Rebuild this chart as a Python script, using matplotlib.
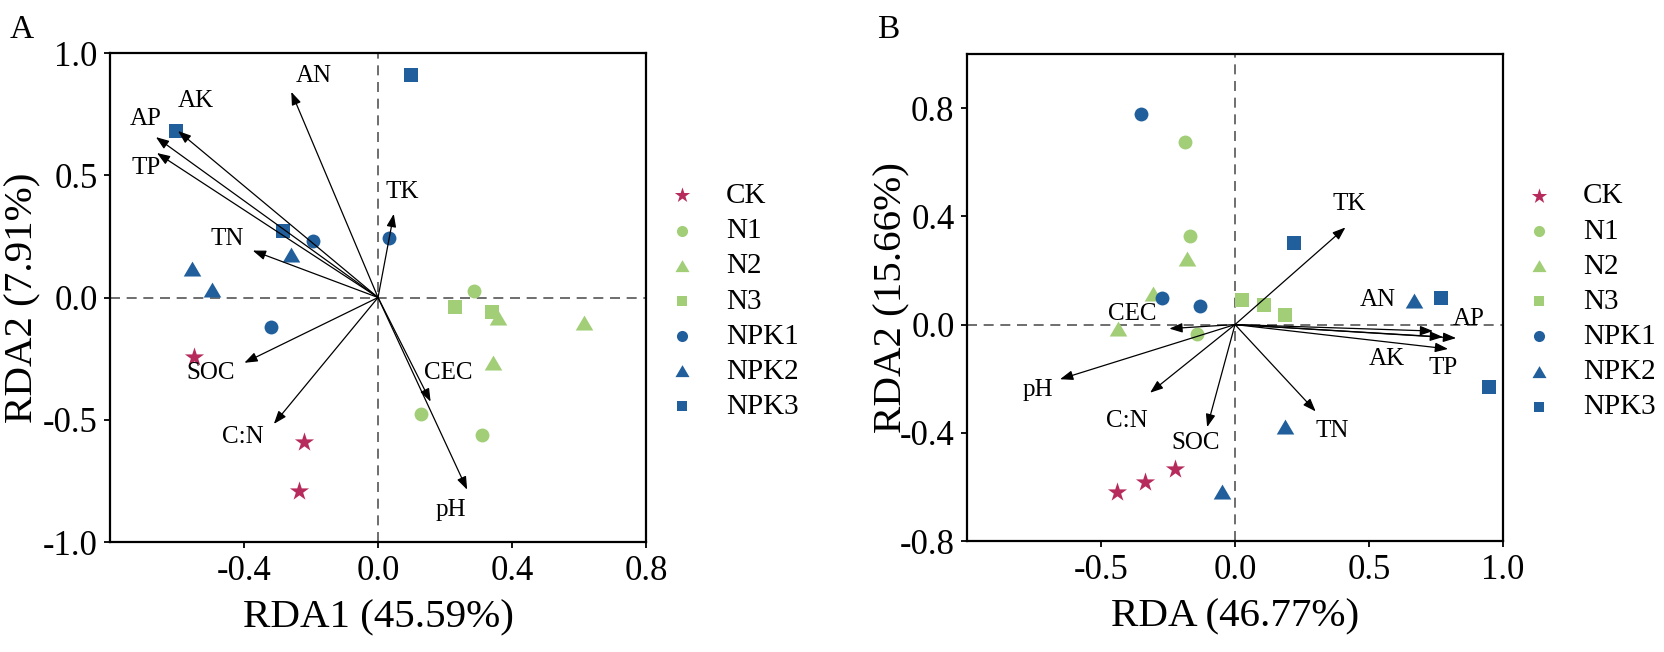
import matplotlib
matplotlib.use("Agg")
import matplotlib.pyplot as plt

plt.rcParams["font.family"] = ["Liberation Serif", "DejaVu Serif"]
plt.rcParams["axes.unicode_minus"] = False

# groups and colours
GROUPS = ["CK", "N1", "N2", "N3", "NPK1", "NPK2", "NPK3"]
COLORS = ["#B72A5C", "#A1CE76", "#A1CE76", "#A1CE76", "#205F9B", "#205F9B", "#205F9B"]
TRI = [(-1, -0.8), (1, -0.8), (0, 0.9)]
MARKERS = ["*", "o", TRI, "s", "o", TRI, "s"]
SIZES = [210, 100, 160, 95, 100, 160, 95]

# ---- panel A: sample scores (one list per group) ----
A_X = [[-0.549, -0.221, -0.237],
       [0.285, 0.128, 0.309],
       [0.358, 0.614, 0.342],
       [0.229, 0.339],
       [-0.193, 0.032, -0.320],
       [-0.556, -0.496, -0.261],
       [0.097, -0.603, -0.283]]
A_Y = [[-0.242, -0.591, -0.790],
       [0.027, -0.475, -0.563],
       [-0.083, -0.104, -0.267],
       [-0.037, -0.058],
       [0.231, 0.243, -0.119],
       [0.116, 0.032, 0.174],
       [0.909, 0.681, 0.274]]

# ---- panel A: environmental arrows ----
A_VARS = ["AN", "AK", "AP", "TP", "TN", "TK", "SOC", "C:N", "CEC", "pH"]
A_ARR_X = [-0.259, -0.597, -0.663, -0.660, -0.374, 0.047, -0.399, -0.311, 0.157, 0.266]
A_ARR_Y = [0.841, 0.681, 0.656, 0.591, 0.192, 0.342, -0.267, -0.517, -0.426, -0.786]
A_LBL = [(-0.193, 0.907), (-0.543, 0.805), (-0.693, 0.730), (-0.693, 0.530),
         (-0.449, 0.240), (0.073, 0.431), (-0.499, -0.308), (-0.403, -0.572),
         (0.209, -0.308), (0.218, -0.871)]

# ---- panel B: sample scores ----
B_X = [[-0.442, -0.337, -0.225],
       [-0.185, -0.169, -0.141],
       [-0.181, -0.305, -0.436],
       [0.026, 0.110, 0.185],
       [-0.349, -0.273, -0.129],
       [0.668, 0.187, -0.050],
       [0.221, 0.769, 0.948]]
B_Y = [[-0.620, -0.581, -0.532],
       [0.676, 0.326, -0.034],
       [0.242, 0.112, -0.018],
       [0.089, 0.072, 0.035],
       [0.777, 0.099, 0.069],
       [0.087, -0.378, -0.620],
       [0.303, 0.098, -0.231]]

# ---- panel B: environmental arrows ----
B_VARS = ["TK", "AN", "AK", "AP", "TP", "TN", "SOC", "C:N", "pH", "CEC"]
B_ARR_X = [0.412, 0.739, 0.776, 0.825, 0.795, 0.301, -0.104, -0.317, -0.653, -0.245]
B_ARR_Y = [0.359, -0.024, -0.046, -0.050, -0.090, -0.321, -0.379, -0.252, -0.202, -0.015]
B_LBL = [(0.426, 0.444), (0.534, 0.091), (0.567, -0.127), (0.873, 0.021),
         (0.776, -0.160), (0.361, -0.395), (-0.147, -0.436), (-0.402, -0.355),
         (-0.737, -0.242), (-0.382, 0.038)]


def draw_panel(ax, xs, ys, names, ax_x, ax_y, lbls):
    ax.axhline(0, color="#555555", lw=1.2, ls=(0, (6, 4)), zorder=1)
    ax.axvline(0, color="#555555", lw=1.2, ls=(0, (6, 4)), zorder=1)
    for g, c, m, s, x, y in zip(GROUPS, COLORS, MARKERS, SIZES, xs, ys):
        ax.scatter(x, y, s=s, c=c, marker=m, linewidths=0, label=g, zorder=3)
    for n, dx, dy, (lx, ly) in zip(names, ax_x, ax_y, lbls):
        ax.annotate("", xy=(dx, dy), xytext=(0, 0),
                    arrowprops=dict(arrowstyle="-|>,head_length=0.65,head_width=0.24",
                                    color="black", lw=0.9, mutation_scale=12,
                                    shrinkA=0, shrinkB=0), zorder=4)
        ax.text(lx, ly, n, fontsize=18, ha="center", va="center", zorder=5)
    for sp in ax.spines.values():
        sp.set_linewidth(1.6)
    ax.tick_params(direction="out", length=4, width=1.3, labelsize=25, pad=5)
    leg = ax.legend(loc="upper left", bbox_to_anchor=(1.04, 0.735), frameon=False,
                    fontsize=21, handlelength=1.0, handletextpad=1.0,
                    labelspacing=0.3, borderpad=0, borderaxespad=0, markerscale=0.8)
    return leg


fig = plt.figure(figsize=(16.65, 6.52), dpi=100)
axA = fig.add_axes([0.0661, 0.1687, 0.3219, 0.75])
axB = fig.add_axes([0.5808, 0.1702, 0.3219, 0.7470])

draw_panel(axA, A_X, A_Y, A_VARS, A_ARR_X, A_ARR_Y, A_LBL)
axA.set_xlim(-0.8, 0.8)
axA.set_ylim(-1.0, 1.0)
axA.set_xticks([-0.4, 0.0, 0.4, 0.8])
axA.set_yticks([-1.0, -0.5, 0.0, 0.5, 1.0])
axA.set_xlabel("RDA1 (45.59%)", fontsize=29.5)
axA.set_ylabel("RDA2 (7.91%)", fontsize=29.5)
axA.xaxis.set_label_coords(0.5, -0.155)
axA.yaxis.set_label_coords(-0.162, 0.5)
axA.xaxis.label.set_va("center")
axA.yaxis.label.set_va("center")

draw_panel(axB, B_X, B_Y, B_VARS, B_ARR_X, B_ARR_Y, B_LBL)
axB.set_xlim(-1.0, 1.0)
axB.set_ylim(-0.8, 1.0)
axB.set_xticks([-0.5, 0.0, 0.5, 1.0])
axB.set_yticks([-0.8, -0.4, 0.0, 0.4, 0.8])
axB.set_xlabel("RDA (46.77%)", fontsize=29.5)
axB.set_ylabel("RDA2 (15.66%)", fontsize=29.5)
axB.xaxis.set_label_coords(0.5, -0.155)
axB.yaxis.set_label_coords(-0.140, 0.5)
axB.xaxis.label.set_va("center")
axB.yaxis.label.set_va("center")

for ax in (axA, axB):
    ax.xaxis.set_major_formatter(matplotlib.ticker.FormatStrFormatter("%.1f"))
    ax.yaxis.set_major_formatter(matplotlib.ticker.FormatStrFormatter("%.1f"))

fig.text(0.006, 0.978, "A", fontsize=24, va="top", ha="left")
fig.text(0.527, 0.978, "B", fontsize=24, va="top", ha="left")

fig.savefig("out.png", dpi=100)
